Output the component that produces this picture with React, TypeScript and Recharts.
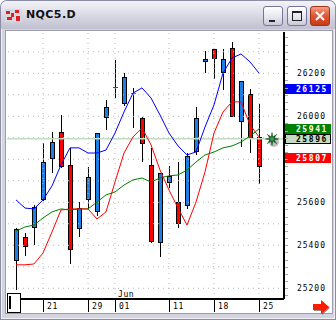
import React from "react";
import { ComposedChart, Bar, Line, XAxis, YAxis, ReferenceLine } from "recharts";

const DATES = [
  "05-16", "05-19", "05-20", "05-21", "05-22", "05-23", "05-27", "05-28", "05-29", "05-30",
  "05-31", "06-01", "06-03", "06-04", "06-05", "06-09", "06-10", "06-11", "06-12", "06-13",
  "06-16", "06-17", "06-18", "06-19", "06-20", "06-23", "06-24", "06-25",
];
const OPEN = [
  25327, 25439, 25481, 25611, 25801, 25927, 25774, 25476, 25611, 25555,
  25992, 26136, 26057, 26107, 25992, 25774, 25411, 25690, 25601, 25583,
  25834, 26253, 26313, 26201, 26319, 25973, 26104, 25904,
];
const HIGH = [
  25478, 25457, 25587, 25876, 25927, 26006, 25853, 25601, 25764, 25922,
  26076, 26262, 26201, 26132, 25995, 25853, 25736, 25769, 25787, 25829,
  26043, 26304, 26313, 26313, 26346, 26164, 26127, 26057,
];
const LOW = [
  25192, 25350, 25401, 25606, 25736, 25760, 25313, 25439, 25573, 25536,
  25936, 26085, 26048, 25946, 25787, 25411, 25346, 25667, 25481, 25569,
  25820, 26201, 26173, 26123, 25997, 25857, 25829, 25685,
];
const CLOSE = [
  25476, 25392, 25578, 25787, 25880, 25764, 25378, 25573, 25718, 25922,
  26043, 26134, 26183, 26109, 25871, 25415, 25736, 25722, 25499, 25815,
  25992, 26267, 26267, 26267, 25997, 26164, 25894, 25764,
];
const MA_BLUE = [
  25611, 25573, 25569, 25611, 25676, 25774, 25853, 25853, 25829, 25829,
  25843, 25922, 26020, 26108, 26132, 26085, 26006, 25922, 25862, 25820,
  25834, 25950, 26053, 26201, 26271, 26290, 26253, 26201,
];
const MA_RED = [
  25309, 25309, 25313, 25364, 25462, 25564, 25569, 25569, 25569, 25522,
  25555, 25694, 25829, 25904, 25946, 25867, 25750, 25657, 25573, 25494,
  25601, 25741, 25922, 26020, 26067, 26067, 25960, 25904,
];
const MA_GREEN = [
  25466, 25485, 25494, 25527, 25555, 25569, 25564, 25569, 25569, 25601,
  25634, 25648, 25680, 25704, 25713, 25694, 25713, 25723, 25727, 25750,
  25787, 25820, 25834, 25853, 25862, 25880, 25908, 25941,
];

const DATE_TICKS = ["05-21", "05-29", "06-01", "06-11", "06-18", "06-25"];
const PRICE_LABELS = [25200, 25400, 25600, 26000, 26200];
const GRID_PRICES = [25200, 25300, 25400, 25500, 25600, 25700, 25800, 25900, 26000, 26100, 26200, 26300];
const Y_DOMAIN = [25150, 26392];

const BLUE_TAG = 26125;
const GREEN_TAG = 25941;
const LAST_PRICE = 25896;
const RED_TAG = 25807;

// small scale marks every third of 100 points
const MINOR_TICKS = Array.from({ length: 37 }, (_, k) => 25200 + (100 * (k - 1)) / 3);

const data = DATES.map((date, i) => ({
  date,
  o: OPEN[i],
  h: HIGH[i],
  l: LOW[i],
  c: CLOSE[i],
  fast: MA_BLUE[i],
  mid: MA_RED[i],
  slow: MA_GREEN[i],
}));

const MONO = "'DejaVu Sans Mono', monospace";
const UP = "#1c7fe6";
const DOWN = "#ff0000";

function Candle(props: any) {
  const { x, y, width, height, payload } = props;
  if (x == null || !payload) return null;
  const top = Math.min(y, y + height);
  const span = Math.abs(height);
  const { o, h, l, c } = payload;
  const k = span / (h - l || 1);
  const cx = Math.round(x + width / 2) + 0.5;
  const b0 = Math.round(top + (h - Math.max(o, c)) * k);
  const b1 = Math.round(top + (h - Math.min(o, c)) * k);
  const color = c >= o ? UP : DOWN;
  return (
    <g>
      <line x1={cx} x2={cx} y1={Math.round(top)} y2={Math.round(top + span)} stroke="#000" strokeWidth={1} />
      {b1 - b0 < 2 ? (
        <line x1={cx - 2.5} x2={cx + 2.5} y1={b0 + 0.5} y2={b0 + 0.5} stroke={color} strokeWidth={1} />
      ) : (
        <rect x={cx - 2} y={b0 + 0.5} width={4} height={b1 - b0 - 1} fill={color} stroke="#000" strokeWidth={1} />
      )}
    </g>
  );
}

function PriceTick(props: any) {
  const { x, y, payload } = props;
  const v = payload.value;
  const labeled = PRICE_LABELS.some((p) => Math.abs(p - v) < 0.01);
  const yy = Math.round(y) + 0.5;
  return (
    <g>
      <line x1={x + 1} x2={x + 4} y1={yy} y2={yy} stroke="#a8a8a8" />
      {labeled && (
        <text x={x + 42} y={y + 3} textAnchor="end" fontFamily={MONO} fontSize={8} letterSpacing={1} fill="#000">
          {Math.round(v)}
        </text>
      )}
    </g>
  );
}

function LeftTick(props: any) {
  const { x, y } = props;
  const yy = Math.round(y) + 0.5;
  return <line x1={x} x2={x + 3} y1={yy} y2={yy} stroke="#a8a8a8" />;
}

function DateTick(props: any) {
  const { x, y, payload } = props;
  const v: string = payload.value;
  const xx = Math.round(x) + 0.5;
  return (
    <g>
      <line x1={xx} x2={xx} y1={y} y2={y + 13} stroke="#000" strokeWidth={1} />
      <text x={xx + 3.5} y={y + 9.5} fontFamily={MONO} fontSize={8} letterSpacing={0.6} fill="#000">
        {v.slice(3)}
      </text>
      {v === "06-01" && (
        <text x={xx + 2.5} y={y - 2} fontFamily={MONO} fontSize={8} letterSpacing={0.6} fill="#000">
          Jun
        </text>
      )}
    </g>
  );
}

function Tag(props: any) {
  const { viewBox, text, fill, color, border, star } = props;
  if (!viewBox) return null;
  const right = viewBox.x + viewBox.width;
  const cy = Math.round(viewBox.y);
  const pts: string[] = [];
  if (star) {
    const sx = right - 12;
    for (let i = 0; i < 16; i++) {
      const r = i % 2 === 0 ? 6.5 : 2.2;
      const a = (Math.PI * i) / 8;
      pts.push(`${sx + r * Math.cos(a)},${cy + r * Math.sin(a)}`);
    }
  }
  return (
    <g>
      {star && (
        <g>
          <circle cx={right - 10} cy={cy + 3} r={5} fill="#000" opacity={0.25} />
          <polygon points={pts.join(" ")} fill="#0e5a22" stroke="#0a4a1a" strokeWidth={0.5} />
          <circle cx={right - 12} cy={cy} r={2} fill="#3c9a4e" />
        </g>
      )}
      <rect x={right + 1.5} y={cy - 4.5} width={45} height={9} fill={fill} stroke={border} strokeWidth={1} />
      <text
        x={right + 44}
        y={cy + 3}
        textAnchor="end"
        fontFamily={MONO}
        fontSize={8}
        fontWeight="bold"
        letterSpacing={1.6}
        fill={color}
      >
        {text}
      </text>
    </g>
  );
}

function Chart() {
  return (
    <ComposedChart width={326} height={282} data={data} margin={{ top: 1, right: 2, bottom: 0, left: 1 }}>
      <XAxis
        dataKey="date"
        height={14}
        ticks={DATE_TICKS}
        interval={0}
        tickSize={0}
        tickMargin={0}
        tickLine={false}
        tick={<DateTick />}
        padding={{ left: 4.5, right: 20.5 }}
        axisLine={{ stroke: "#000", strokeWidth: 2 }}
      />
      <XAxis
        xAxisId="top"
        orientation="top"
        dataKey="date"
        height={0}
        tick={false}
        tickLine={false}
        padding={{ left: 4.5, right: 20.5 }}
        axisLine={{ stroke: "#000", strokeWidth: 1 }}
      />
      <YAxis
        orientation="right"
        type="number"
        domain={Y_DOMAIN}
        allowDataOverflow
        ticks={MINOR_TICKS}
        interval={0}
        width={46}
        tickSize={0}
        tickMargin={0}
        tickLine={false}
        tick={<PriceTick />}
        axisLine={{ stroke: "#000", strokeWidth: 2 }}
      />
      <YAxis
        yAxisId="left"
        orientation="left"
        type="number"
        domain={Y_DOMAIN}
        allowDataOverflow
        ticks={MINOR_TICKS}
        interval={0}
        width={0}
        tickSize={0}
        tickMargin={0}
        tickLine={false}
        tick={<LeftTick />}
        axisLine={{ stroke: "#000", strokeWidth: 1 }}
      />
      {GRID_PRICES.map((p) => (
        <ReferenceLine key={p} y={p} stroke="#b8b8b8" strokeDasharray="1 4" />
      ))}
      {DATE_TICKS.map((d) => (
        <ReferenceLine key={d} x={d} stroke="#b8b8b8" strokeDasharray="1 4" />
      ))}
      <ReferenceLine
        y={LAST_PRICE}
        stroke="#c4dcc4"
        strokeWidth={1.5}
        label={<Tag text={String(LAST_PRICE)} fill="#c4dcc4" color="#000" border="#000" star />}
      />
      <ReferenceLine
        y={BLUE_TAG}
        stroke="none"
        label={<Tag text={String(BLUE_TAG)} fill="#0000ff" color="#fff" border="#0000ff" />}
      />
      <ReferenceLine
        y={GREEN_TAG}
        stroke="none"
        label={<Tag text={String(GREEN_TAG)} fill="#008000" color="#fff" border="#008000" />}
      />
      <ReferenceLine
        y={RED_TAG}
        stroke="none"
        label={<Tag text={String(RED_TAG)} fill="#ff0000" color="#fff" border="#ff0000" />}
      />
      <Bar dataKey={(d: any) => [d.l, d.h]} barSize={5} shape={<Candle />} isAnimationActive={false} />
      <Line type="linear" dataKey="slow" stroke="#008000" strokeWidth={1} dot={false} isAnimationActive={false} />
      <Line type="linear" dataKey="mid" stroke="#ff0000" strokeWidth={1} dot={false} isAnimationActive={false} />
      <Line type="linear" dataKey="fast" stroke="#0000ff" strokeWidth={1} dot={false} isAnimationActive={false} />
    </ComposedChart>
  );
}

const btn: React.CSSProperties = {
  position: "absolute",
  top: 6,
  width: 20,
  height: 20,
  boxSizing: "border-box",
  borderRadius: 3,
  border: "1px solid #76769a",
  background: "linear-gradient(180deg, #ffffff 0%, #e4e4ee 60%, #c8c8d8 100%)",
};

export default function App() {
  return (
    <div
      style={{
        position: "absolute",
        left: 0,
        top: 0,
        width: 336,
        height: 320,
        overflow: "hidden",
        background: "#d4d4e0",
        boxShadow: "inset 0 0 0 1px #8c8ca4, inset 0 0 0 2px #f0f0f6",
        borderRadius: "7px 7px 0 0",
      }}
    >
      <div
        style={{
          position: "absolute",
          left: 1,
          top: 1,
          width: 334,
          height: 28,
          borderRadius: "6px 6px 0 0",
          background: "linear-gradient(180deg, #f2f2f8 0%, #e2e2ec 35%, #cfcfdc 70%, #c0c0d0 100%)",
        }}
      />
      <svg style={{ position: "absolute", left: 5, top: 9 }} width={17} height={13}>
        <rect x={0} y={0} width={17} height={13} fill="#d8d8e0" />
        <rect x={1} y={2} width={4} height={3} fill="#e02020" />
        <rect x={6} y={4} width={3} height={4} fill="#e02020" />
        <rect x={10} y={1} width={4} height={3} fill="#e02020" />
        <rect x={2} y={8} width={5} height={3} fill="#e02020" />
        <rect x={11} y={7} width={4} height={5} fill="#e02020" />
      </svg>
      <div
        style={{
          position: "absolute",
          left: 26,
          top: 8,
          fontFamily: "'DejaVu Sans', sans-serif",
          fontWeight: "bold",
          fontSize: 11,
          letterSpacing: 0.4,
          color: "#111",
        }}
      >
        NQC5.D
      </div>
      <div style={{ ...btn, left: 263 }}>
        <div style={{ position: "absolute", left: 5, top: 13, width: 6, height: 2, background: "#222" }} />
      </div>
      <div style={{ ...btn, left: 287 }}>
        <div
          style={{
            position: "absolute",
            left: 4,
            top: 4,
            width: 10,
            height: 10,
            boxSizing: "border-box",
            border: "1px solid #222",
            borderTop: "2px solid #222",
          }}
        />
      </div>
      <div
        style={{
          ...btn,
          left: 310,
          border: "1px solid #9c3418",
          background: "linear-gradient(180deg, #f4a088 0%, #e25a36 45%, #c83a18 100%)",
        }}
      >
        <svg width={18} height={18} style={{ position: "absolute", left: 0, top: 0 }}>
          <line x1={5} y1={5} x2={13} y2={13} stroke="#fff" strokeWidth={2} />
          <line x1={13} y1={5} x2={5} y2={13} stroke="#fff" strokeWidth={2} />
        </svg>
      </div>
      <div
        style={{
          position: "absolute",
          left: 6,
          top: 31,
          width: 326,
          height: 282,
          background: "#fff",
          boxShadow: "0 0 0 1px #9c9cae",
        }}
      >
        <Chart />
      </div>
      <div
        style={{
          position: "absolute",
          left: 7,
          top: 293,
          width: 14,
          height: 20,
          boxSizing: "border-box",
          border: "1.5px solid #000",
          background: "#fff",
        }}
      >
        <div style={{ position: "absolute", left: 1, top: 2, width: 1.5, height: 13, background: "#000" }} />
      </div>
      <svg style={{ position: "absolute", left: 312, top: 300 }} width={22} height={16}>
        <polygon points="2,5 10,5 10,1 18,8 10,15 10,11 2,11" fill="#444" opacity={0.6} />
        <polygon points="1,4 9,4 9,0 17,7 9,14 9,10 1,10" fill="#ff1a00" />
      </svg>
    </div>
  );
}
